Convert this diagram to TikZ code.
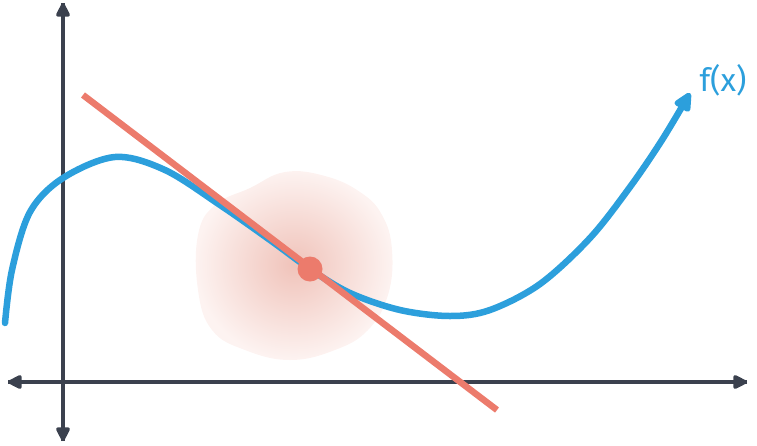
\documentclass[tikz,border=0pt]{standalone}
\usepackage{fontspec}
\usetikzlibrary{arrows.meta}
\definecolor{axisgray}{HTML}{3B414E}
\definecolor{curveblue}{HTML}{2C9FDC}
\definecolor{tanred}{HTML}{EC7B6C}
\definecolor{cloudin}{HTML}{F0C3BA}
\definecolor{cloudout}{HTML}{FDF3F1}
\tikzset{
  axis/.style={draw=axisgray, line width=3.5pt, -{Triangle[length=16pt,width=15pt,round]}},
  fcurve/.style={draw=curveblue, line width=6.5pt, line cap=round, -{Triangle[length=22pt,width=19pt,round]}},
  tangent/.style={draw=tanred, line width=6.5pt},
  flabel/.style={text=curveblue, font=\fontsize{32}{32}\sffamily, inner sep=0pt}
}
\setsansfont{Fira Sans}
\begin{document}
\begin{tikzpicture}[x=1pt,y=-1pt]
\useasboundingbox (0,0) rectangle (757,445);
% cloud
\shade[inner color=cloudin, outer color=cloudout]
  plot[smooth cycle, tension=0.7] coordinates {(198,235) (215,205) (250,188) (285,172) (325,176) (360,192) (382,215) (392,250) (388,295) (368,330) (335,350) (290,360) (245,350) (212,330) (198,290)};
% axes
\coordinate (ol) at (8,382);
\coordinate (or) at (747,382);
\coordinate (ot) at (63,3);
\coordinate (ob) at (63,441);
\draw[axis] (or) -- (ol);
\draw[axis] (ol) -- (or);
\draw[axis] (ob) -- (ot);
\draw[axis] (ot) -- (ob);
% curve
\draw[fcurve] plot[smooth, tension=0.55] coordinates {(5,323) (12,270) (30,212) (63,178) (115,157) (165,170) (220,205) (270,240) (310,269) (350,293) (400,310) (450,316) (490,310) (540,284) (590,238) (630,187) (662,140) (690,93)};
% tangent
\coordinate (t1) at (83,95);
\coordinate (t2) at (497,410);
\draw[tangent] (t1) -- (t2);
\node[circle, fill=tanred, minimum size=25pt, inner sep=0pt] (p) at (310,269) {};
\node[flabel] (f) at (723,80) {f(x)};
\end{tikzpicture}
\end{document}
